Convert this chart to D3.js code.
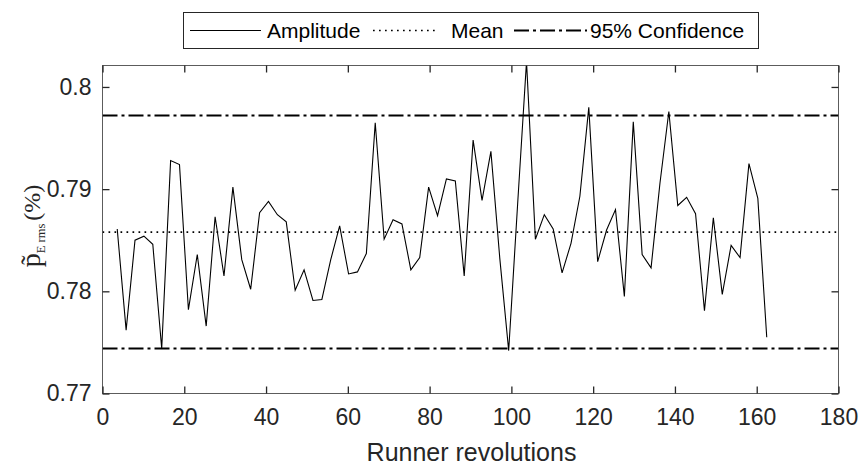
<!DOCTYPE html>
<html><head><meta charset="utf-8">
<script src="https://cdn.jsdelivr.net/npm/d3@7"></script>
<style>
body{margin:0;background:#fff;}
svg{display:block;font-family:"Liberation Sans",Arial,Helvetica,sans-serif;}
</style>
</head><body>
<svg id="chart" width="861" height="465"></svg>
<script>
// ---- data ----
const revolutions = [3.6, 5.78, 7.95, 10.13, 12.3, 14.48, 16.66, 18.83, 21.01, 23.18,
  25.36, 27.54, 29.71, 31.89, 34.06, 36.24, 38.42, 40.59, 42.77, 44.94,
  47.12, 49.3, 51.47, 53.65, 55.82, 58.0, 60.18, 62.35, 64.53, 66.7,
  68.88, 71.06, 73.23, 75.41, 77.58, 79.76, 81.94, 84.11, 86.29, 88.46,
  90.64, 92.82, 94.99, 97.17, 99.34, 101.52, 103.7, 105.87, 108.05, 110.22,
  112.4, 114.58, 116.75, 118.93, 121.1, 123.28, 125.46, 127.63, 129.81, 131.98,
  134.16, 136.34, 138.51, 140.69, 142.86, 145.04, 147.22, 149.39, 151.57, 153.74,
  155.92, 158.1, 160.27, 162.45];
const amplitude = [0.7861, 0.7762, 0.7850, 0.7854, 0.7846, 0.7744, 0.7928, 0.7924, 0.7782, 0.7836,
  0.7766, 0.7873, 0.7815, 0.7902, 0.7831, 0.7802, 0.7877, 0.7888, 0.7875, 0.7868,
  0.7801, 0.7821, 0.7791, 0.7792, 0.7831, 0.7864, 0.7817, 0.7819, 0.7837, 0.7965,
  0.7851, 0.7870, 0.7866, 0.7821, 0.7833, 0.7902, 0.7874, 0.7910, 0.7908, 0.7815,
  0.7948, 0.7889, 0.7937, 0.7832, 0.7742, 0.7885, 0.8025, 0.7851, 0.7875, 0.7861,
  0.7818, 0.7847, 0.7893, 0.7980, 0.7829, 0.7860, 0.7880, 0.7795, 0.7966, 0.7836,
  0.7823, 0.7906, 0.7976, 0.7884, 0.7892, 0.7876, 0.7781, 0.7872, 0.7797, 0.7845,
  0.7833, 0.7925, 0.7891, 0.7755];
const meanValue = 0.7858;
const confUpper = 0.7972;
const confLower = 0.7744;
const xTicks = [0, 20, 40, 60, 80, 100, 120, 140, 160, 180];
const yTicks = [0.77, 0.78, 0.79, 0.8];
const yTickLabels = ["0.77", "0.78", "0.79", "0.8"];
const legendLabels = ["Amplitude", "Mean", "95% Confidence"];
const xLabel = "Runner revolutions";

// ---- layout ----
const svg = d3.select("#chart");
const L = 102.5, R = 838.5, T = 65.5, B = 393.5;
const x = d3.scaleLinear().domain([0, 180]).range([L, R]);
const y = d3.scaleLinear().domain([0.77, 0.8021]).range([B, T]);
const axisColor = "#262626";
const tickLen = 7;
const fs = 21;
const tfs = 23;

svg.append("rect").attr("width", 861).attr("height", 465).attr("fill", "#fff");

svg.append("defs").append("clipPath").attr("id", "clip")
  .append("rect").attr("x", L).attr("y", T).attr("width", R - L).attr("height", B - T);

// data lines
const plot = svg.append("g").attr("clip-path", "url(#clip)");
const hline = (v, dash, w) => plot.append("line")
  .attr("x1", x(0)).attr("x2", x(180)).attr("y1", y(v)).attr("y2", y(v))
  .attr("stroke", "#000").attr("stroke-width", w).attr("stroke-dasharray", dash);
hline(meanValue, "1.7 4.3", 1.7);
hline(confUpper, "15 4 3 4", 2);
hline(confLower, "15 4 3 4", 2);

const line = d3.line().x((d, i) => x(revolutions[i])).y(d => y(d));
plot.append("path").datum(amplitude).attr("d", line)
  .attr("fill", "none").attr("stroke", "#000").attr("stroke-width", 1.1)
  .attr("stroke-linejoin", "miter");

// axes
function styleAxis(g) {
  g.select(".domain").remove();
  g.selectAll(".tick line").attr("stroke", axisColor).attr("stroke-width", 1.3);
  g.selectAll(".tick text").attr("fill", axisColor).style("font-size", tfs + "px")
    .style("font-family", '"Liberation Sans",Arial,sans-serif');
}
svg.append("g").attr("transform", `translate(0,${B})`)
  .call(d3.axisBottom(x).tickValues(xTicks).tickSizeInner(-tickLen).tickSizeOuter(0).tickPadding(15).tickFormat(d3.format("d")))
  .call(styleAxis);
svg.append("g").attr("transform", `translate(0,${T})`)
  .call(d3.axisTop(x).tickValues(xTicks).tickSizeInner(-tickLen).tickSizeOuter(0).tickFormat(""))
  .call(styleAxis);
svg.append("g").attr("transform", `translate(${L},0)`)
  .call(d3.axisLeft(y).tickValues(yTicks).tickSizeInner(-tickLen).tickSizeOuter(0).tickPadding(11)
    .tickFormat((d, i) => yTickLabels[i]))
  .call(styleAxis);
svg.append("g").attr("transform", `translate(${R},0)`)
  .call(d3.axisRight(y).tickValues(yTicks).tickSizeInner(-tickLen).tickSizeOuter(0).tickFormat(""))
  .call(styleAxis);

svg.append("rect").attr("x", L).attr("y", T).attr("width", R - L).attr("height", B - T)
  .attr("fill", "none").attr("stroke", axisColor).attr("stroke-width", 1).attr("stroke-opacity", 0.75);

// x label
svg.append("text").attr("x", (L + R) / 2 + 1).attr("y", 461).attr("text-anchor", "middle")
  .attr("fill", axisColor).style("font-size", "25px").text(xLabel);

// y label (LaTeX-like)
const yl = svg.append("text")
  .attr("transform", `translate(40,226) rotate(-90)`)
  .attr("text-anchor", "middle")
  .attr("fill", axisColor)
  .style("font-family", '"Liberation Serif","DejaVu Serif",serif');
yl.append("tspan").style("font-size", "28px").text("p\u0303");
yl.append("tspan").style("font-size", "12.5px").attr("dy", 5).text("E rms");
yl.append("tspan").style("font-size", "24px").attr("dy", -5).attr("dx", 3).text("(%)");

// legend
const lg = svg.append("g");
lg.append("rect").attr("x", 183.5).attr("y", 12.5).attr("width", 575).attr("height", 36)
  .attr("fill", "#fff").attr("stroke", axisColor).attr("stroke-width", 1);
const ly = 30.5;
const items = [
  {x1: 190, x2: 261, tx: 267, dash: null, w: 1.1},
  {x1: 373, x2: 439, tx: 451, dash: "1.7 4.3", w: 1.7},
  {x1: 514, x2: 587, tx: 590, dash: "15 4 3 4", w: 2}
];
items.forEach((it, i) => {
  const l = lg.append("line").attr("x1", it.x1).attr("x2", it.x2).attr("y1", ly).attr("y2", ly)
    .attr("stroke", "#000").attr("stroke-width", it.w);
  if (it.dash) l.attr("stroke-dasharray", it.dash);
  lg.append("text").attr("x", it.tx).attr("y", ly + 7.5).attr("fill", "#000")
    .style("font-size", fs + "px").text(legendLabels[i]);
});
</script>
</body></html>
